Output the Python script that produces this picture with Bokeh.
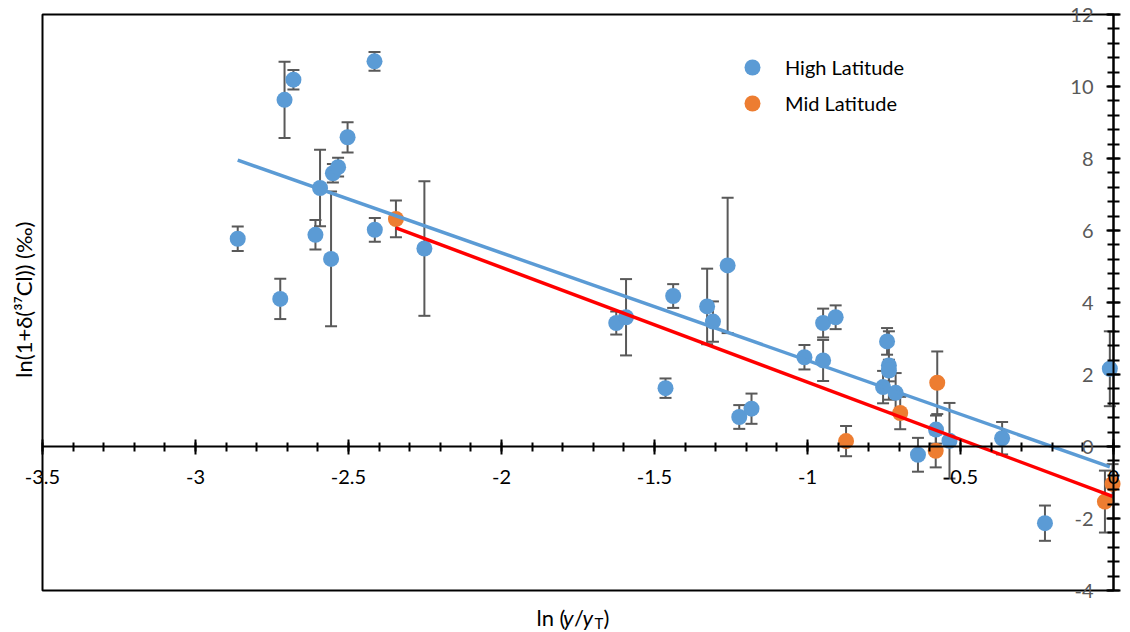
import numpy as np
from bokeh.plotting import figure
from bokeh.models import (ColumnDataSource, Whisker, TeeHead, FixedTicker, Legend,
                          LegendItem, Label, Range1d, BoxAnnotation)
from bokeh.embed import file_html
from bokeh.resources import INLINE

# ---------------- data ----------------
series_names = ["High Latitude", "Mid Latitude"]

hl_x = [-2.862, -2.723, -2.709, -2.680, -2.608, -2.593, -2.557, -2.551, -2.534, -2.503,
        -2.415, -2.414, -2.252, -1.625, -1.593, -1.464, -1.439, -1.328, -1.309, -1.261,
        -1.223, -1.183, -1.010, -0.949, -0.949, -0.908, -0.740, -0.734, -0.734, -0.753,
        -0.712, -0.639, -0.580, -0.536, -0.364, -0.224, -0.012]
hl_y = [5.77, 4.10, 9.63, 10.19, 5.88, 7.18, 5.21, 7.59, 7.76, 8.59,
        10.70, 6.02, 5.50, 3.43, 3.59, 1.62, 4.18, 3.89, 3.47, 5.03,
        0.82, 1.05, 2.48, 3.43, 2.39, 3.59, 2.92, 2.25, 2.11, 1.65,
        1.49, -0.23, 0.47, 0.16, 0.23, -2.13, 2.16]
hl_err = [0.34, 0.56, 1.06, 0.27, 0.41, 1.06, 1.87, 0.26, 0.26, 0.42,
          0.26, 0.33, 1.87, 0.32, 1.06, 0.27, 0.33, 1.05, 0.56, 1.88,
          0.33, 0.42, 0.34, 0.40, 0.57, 0.33, 0.37, 0.95, 0.30, 0.45,
          0.55, 0.47, 0.39, 1.05, 0.45, 0.49, 1.04]

ml_x = [-2.345, -0.874, -0.697, -0.576, -0.581, -0.028, -0.003]
ml_y = [6.32, 0.15, 0.93, 1.77, -0.12, -1.53, -1.04]
ml_err = [0.51, 0.42, 0.45, 0.87, 0.46, 0.86, 0.55]

x_ticks = [-3.5, -3, -2.5, -2, -1.5, -1, -0.5, 0]
x_tick_labels = ["-3.5", "-3", "-2.5", "-2", "-1.5", "-1", "-0.5", "0"]
y_ticks = [-4, -2, 0, 2, 4, 6, 8, 10, 12]
y_tick_labels = ["-4", "-2", "0", "2", "4", "6", "8", "10", "12"]

x_title_parts = ["ln (", "y", "/", "y", "T", ")"]
y_title = "ln(1+δ(³⁷Cl)) (‰)"

# ---------------- style ----------------
FONT = "Lato"
BLUE = "#5B9BD5"
ORANGE = "#ED7D31"
RED = "#FF0000"
GREY = "#595959"

XMIN, XMAX, YMIN, YMAX = -3.5, 0, -4, 12
W, H = 1130, 632
L, R, T, B = 42, 17, 14, 42          # pixel margins around the plot box
sx = (XMAX - XMIN) / (W - L - R)
sy = (YMAX - YMIN) / (H - T - B)

p = figure(width=W, height=H,
           x_range=Range1d(XMIN - L * sx, XMAX + R * sx),
           y_range=Range1d(YMIN - B * sy, YMAX + T * sy),
           output_backend="svg", toolbar_location=None,
           min_border=0, min_border_left=0, min_border_right=0,
           min_border_top=0, min_border_bottom=0,
           background_fill_color="white", border_fill_color="white")
p.xgrid.visible = False
p.ygrid.visible = False
p.outline_line_color = None

# plot box
p.add_layout(BoxAnnotation(left=XMIN, right=XMAX, bottom=YMIN, top=YMAX,
                           fill_alpha=0, line_color="black", line_alpha=1,
                           line_width=2, level="underlay"))

def add_series(xs, ys, errs, color):
    src = ColumnDataSource(dict(x=xs, y=ys,
                                upper=[a + b for a, b in zip(ys, errs)],
                                lower=[a - b for a, b in zip(ys, errs)]))
    w = Whisker(source=src, base="x", upper="upper", lower="lower", dimension="height",
                line_color=GREY, line_width=2,
                upper_head=TeeHead(size=12, line_color=GREY, line_width=2),
                lower_head=TeeHead(size=12, line_color=GREY, line_width=2))
    p.add_layout(w)
    return p.scatter("x", "y", source=src, size=16, fill_color=color, line_color=None)

r_h = add_series(hl_x, hl_y, hl_err, BLUE)
r_m = add_series(ml_x, ml_y, ml_err, ORANGE)

# linear trendlines (least squares on each series)
for xs, ys, col in [(hl_x, hl_y, BLUE), (ml_x, ml_y, RED)]:
    k, b = np.polyfit(xs, ys, 1)
    xe = [min(xs), max(xs)]
    p.line(xe, [k * v + b for v in xe], line_color=col, line_width=3.5)

# axes crossing at the origin
xa = p.xaxis[0]
xa.fixed_location = 0
xa.bounds = (XMIN, XMAX)
xa.ticker = FixedTicker(ticks=x_ticks,
                        minor_ticks=[round(XMIN + 0.1 * i, 1) for i in range(36)])
xa.major_label_overrides = dict(zip(x_ticks, x_tick_labels))
xa.axis_line_color = "black"
xa.axis_line_width = 2
xa.major_tick_line_color = "black"
xa.major_tick_line_width = 2
xa.minor_tick_line_color = "black"
xa.minor_tick_line_width = 2
xa.major_tick_in = 7
xa.major_tick_out = 8
xa.minor_tick_in = 4
xa.minor_tick_out = 5
xa.major_label_text_font = FONT
xa.major_label_text_font_size = "20px"
xa.major_label_text_color = "black"
xa.major_label_standoff = 15

ya = p.yaxis[0]
ya.fixed_location = 0
ya.bounds = (YMIN, YMAX)
ya.ticker = FixedTicker(ticks=y_ticks,
                        minor_ticks=[round(YMIN + 0.4 * i, 1) for i in range(41)])
ya.major_label_overrides = dict(zip(y_ticks, y_tick_labels))
ya.axis_line_color = "black"
ya.axis_line_width = 2
ya.major_tick_line_color = "black"
ya.major_tick_line_width = 2
ya.minor_tick_line_color = "black"
ya.minor_tick_line_width = 2
ya.major_tick_in = 7
ya.major_tick_out = 7
ya.minor_tick_in = 6
ya.minor_tick_out = 6
ya.major_label_text_font = FONT
ya.major_label_text_font_size = "20px"
ya.major_label_text_color = GREY
ya.major_label_standoff = 13

# legend (one entry per box so that the row pitch matches)
for name, rend, loc_y in [(series_names[0], r_h, 545), (series_names[1], r_m, 509)]:
    p.add_layout(Legend(items=[LegendItem(label=name, renderers=[rend])],
                        location=(732, loc_y), orientation="vertical",
                        glyph_width=40, glyph_height=40, spacing=0, padding=0, margin=0,
                        label_standoff=13, border_line_color=None,
                        background_fill_alpha=0,
                        label_text_font=FONT, label_text_font_size="20px",
                        label_text_color="black"))

# axis titles
x_offsets = [0, 26.5, 37.5, 46, 58, 67]
x_styles = ["normal", "italic", "normal", "italic", "normal", "normal"]
x_sizes = ["22px", "22px", "22px", "22px", "15px", "22px"]
x_dy = [0, 0, 0, 0, -6, 0]
for txt, off, st, sz, dy in zip(x_title_parts, x_offsets, x_styles, x_sizes, x_dy):
    p.add_layout(Label(x=-1.8857, y=-4.74, x_offset=off, y_offset=dy, text=txt,
                       text_font=FONT, text_font_size=sz, text_font_style=st,
                       text_color="black", text_align="left",
                       text_baseline="alphabetic"))

p.add_layout(Label(x=-3.562, y=4.08, text=y_title, angle=np.pi / 2,
                   text_font=FONT, text_font_size="22px", text_color="black",
                   text_align="center", text_baseline="middle"))

open("out.html", "w").write(file_html(p, INLINE))
